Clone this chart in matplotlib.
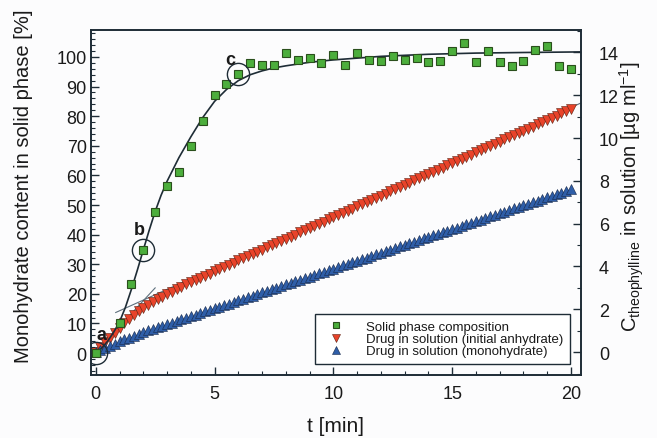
import numpy as np
import matplotlib
matplotlib.use("Agg")
import matplotlib.pyplot as plt
from matplotlib.ticker import MultipleLocator
from matplotlib.lines import Line2D

plt.rcParams['font.family'] = ['Liberation Sans', 'DejaVu Sans']
plt.rcParams['mathtext.fontset'] = 'custom'
plt.rcParams['mathtext.rm'] = 'Liberation Sans'
plt.rcParams['mathtext.it'] = 'Liberation Sans:italic'

# solid phase composition (green squares, left axis, %)
t_solid = [0, 1, 1.5, 2, 2.5, 3, 3.5, 4, 4.5, 5, 5.5, 6, 6.5, 7, 7.5, 8, 8.5, 9, 9.5, 10,
           10.5, 11, 11.5, 12, 12.5, 13, 13.5, 14, 14.5, 15, 15.5, 16, 16.5, 17, 17.5,
           18, 18.5, 19, 19.5, 20]
solid = [0, 10, 23.3, 34.8, 47.6, 56.4, 61, 70, 78.5, 87.3, 91, 94.3, 98, 97.3, 97.4,
         101.4, 98.8, 99.6, 98, 100.7, 97.3, 101.3, 99, 98.6, 100.3, 99, 99.7, 98.4, 98.6,
         102, 104.7, 98.4, 102, 98.3, 96.9, 98.7, 102.4, 103.7, 96.9, 96]

# fitted curve through the solid phase data
t_fit = [0, 0.25, 0.5, 0.75, 1, 1.25, 1.5, 1.75, 2, 2.25, 2.5, 2.75, 3, 3.5, 4, 4.5, 5,
         5.5, 6, 6.5, 7, 7.5, 8, 9, 10, 12, 14, 16, 18, 20.4]
fit = [0, 1.7, 4, 7, 10.5, 15.5, 21.5, 28, 34.8, 41.5, 47.8, 53.3, 58, 66, 73, 79.5, 85,
       89, 92, 94, 95.3, 96.3, 97, 98.2, 99, 100.2, 100.9, 101.3, 101.5, 101.7]

# drug in solution (right axis, ug/ml), sampled every 0.2 min
t_sol = np.round(np.arange(101) * 0.2, 1)
anhydrate = [0.00, 0.22, 0.45, 0.68, 0.91, 1.13, 1.35, 1.56, 1.75, 1.92, 2.07, 2.20, 2.33,
             2.46, 2.59, 2.71, 2.83, 2.94, 3.05, 3.16, 3.27,
             3.37, 3.47, 3.57, 3.67, 3.78, 3.88, 3.98, 4.08, 4.18, 4.28,
             4.38, 4.48, 4.58, 4.68, 4.79, 4.89, 4.99, 5.09, 5.19, 5.29,
             5.39, 5.49, 5.59, 5.69, 5.80, 5.90, 6.00, 6.10, 6.20, 6.30,
             6.40, 6.50, 6.60, 6.70, 6.81, 6.91, 7.01, 7.11, 7.21, 7.31,
             7.41, 7.51, 7.61, 7.71, 7.82, 7.92, 8.02, 8.12, 8.22, 8.32,
             8.42, 8.52, 8.62, 8.72, 8.83, 8.93, 9.03, 9.13, 9.23, 9.33,
             9.43, 9.53, 9.63, 9.73, 9.84, 9.94, 10.04, 10.14, 10.24, 10.34,
             10.44, 10.54, 10.64, 10.74, 10.85, 10.95, 11.05, 11.15, 11.25, 11.35]
monohydrate = [0.00, 0.10, 0.20, 0.30, 0.40, 0.50, 0.59, 0.68, 0.77, 0.86, 0.94, 1.02,
               1.10, 1.17, 1.24, 1.31,
               1.38, 1.46, 1.53, 1.61, 1.68, 1.75, 1.83, 1.90, 1.98, 2.05,
               2.12, 2.20, 2.27, 2.35, 2.42, 2.49, 2.57, 2.64, 2.72, 2.79,
               2.86, 2.94, 3.01, 3.09, 3.16, 3.23, 3.31, 3.38, 3.46, 3.53,
               3.60, 3.68, 3.75, 3.83, 3.90, 3.97, 4.05, 4.12, 4.20, 4.27,
               4.34, 4.42, 4.49, 4.57, 4.64, 4.71, 4.79, 4.86, 4.94, 5.01,
               5.08, 5.16, 5.23, 5.31, 5.38, 5.45, 5.53, 5.60, 5.68, 5.75,
               5.82, 5.90, 5.97, 6.05, 6.12, 6.19, 6.27, 6.34, 6.42, 6.49,
               6.56, 6.64, 6.71, 6.79, 6.86, 6.93, 7.01, 7.08, 7.16, 7.23,
               7.30, 7.38, 7.45, 7.53, 7.60]

# thin guide lines on the anhydrate curve (start/end points)
lin_t = [0.84, 20.42]
lin_c = [1.85, 11.64]
tan_t = [0.0, 2.5]
tan_c = [0.0, 3.0]

# marked points a, b, c
mark_t = [0, 2, 6]
mark_y = [0, 34.8, 94.3]
mark_lbl = ['a', 'b', 'c']
lbl_pos = [(0.24, 6.4), (1.85, 41.9), (5.68, 99.3)]

fig = plt.figure(figsize=(6.57, 4.39), dpi=100, facecolor='#fcfcfd')
ax = fig.add_axes([0.1385, 0.1435, 0.7458, 0.7859])
ax2 = ax.twinx()

dark = '#1e2c36'

ax2.plot(lin_t, lin_c, color='#5d6f7c', lw=0.8, zorder=1)
ax2.plot(tan_t, tan_c, color='#5d6f7c', lw=0.8, zorder=1)
ax2.plot(t_sol, anhydrate, 'v', ms=6.5, mfc='#e8432a', mec='#5a2010', mew=0.4, zorder=2)
ax2.plot(t_sol, monohydrate, '^', ms=6.5, mfc='#2f5ea8', mec='#172848', mew=0.4, zorder=2)

ax.plot(t_fit, fit, color=dark, lw=1.2, zorder=3)
ax.plot(t_solid, solid, 's', ms=5.5, mfc='#4cae3c', mec='#2a4f1c', mew=0.8, zorder=4)
ax.plot(mark_t, mark_y, 'o', ms=16, mfc='none', mec=dark, mew=1.0, zorder=5)
for lbl, (tx, ty) in zip(mark_lbl, lbl_pos):
    ax.text(tx, ty, lbl, fontsize=13, fontweight='bold', ha='center', va='center',
            color='#1a1a1a', zorder=6)

ax.set_zorder(ax2.get_zorder() + 1)
ax.patch.set_visible(False)

ax.set_xlim(-0.2, 20.42)
ax.set_ylim(-7.4, 109.1)
ax2.set_ylim(-1.07, 15.05)

ax.xaxis.set_major_locator(MultipleLocator(5))
ax.xaxis.set_minor_locator(MultipleLocator(1))
ax.set_yticks(np.arange(0, 101, 10))
ax.yaxis.set_minor_locator(MultipleLocator(2))
ax2.set_yticks(np.arange(0, 15, 2))
ax2.yaxis.set_minor_locator(MultipleLocator(1))

ax.tick_params(axis='both', which='both', direction='in', colors=dark, labelcolor='#1a1a1a',
               labelsize=13)
ax.tick_params(axis='y', which='major', length=5.5, width=1, pad=3)
ax.tick_params(axis='y', which='minor', length=3, width=0.8)
ax.tick_params(axis='x', which='major', length=5.5, width=1, pad=7)
ax.tick_params(axis='x', which='minor', length=3, width=0.8)
ax2.tick_params(axis='y', which='both', direction='in', colors=dark, labelcolor='#1a1a1a',
                labelsize=13, pad=13)
ax2.tick_params(axis='y', which='major', length=5.5, width=1)
ax2.tick_params(axis='y', which='minor', length=3, width=0.8)

for a in (ax, ax2):
    for s in a.spines.values():
        s.set_color(dark)
        s.set_linewidth(1.2)

ax.set_xlabel('t [min]', fontsize=15, color='#1a1a1a', labelpad=10)
ax.set_ylabel('Monohydrate content in solid phase [%]', fontsize=14.5, color='#1a1a1a')
ax.yaxis.set_label_coords(-0.118, 0.55)
ax2.set_ylabel(r'C$_{\mathrm{theophylline}}$ in solution [µg ml$^{-1}$]', fontsize=14.5,
               color='#1a1a1a')
ax2.yaxis.set_label_coords(1.075, 0.52)

handles = [
    Line2D([], [], ls='none', marker='s', ms=5, mfc='#4cae3c', mec='#2a4f1c', mew=0.8),
    Line2D([], [], ls='none', marker='v', ms=5.5, mfc='#e8432a', mec='#5a2010', mew=0.4),
    Line2D([], [], ls='none', marker='^', ms=5.5, mfc='#2f5ea8', mec='#172848', mew=0.4),
]
labels = ['Solid phase composition', 'Drug in solution (initial anhydrate)',
          'Drug in solution (monohydrate)']
leg = ax.legend(handles, labels, loc='lower right', bbox_to_anchor=(0.978, 0.032),
                borderaxespad=0, fontsize=9.5, fancybox=False, framealpha=1,
                edgecolor=dark, labelspacing=0.0, handletextpad=1.2, borderpad=0.5,
                handlelength=2.2)
leg.get_frame().set_linewidth(1.0)
for txt in leg.get_texts():
    txt.set_color('#1a1a1a')

fig.savefig('out.png', dpi=100, facecolor=fig.get_facecolor())
